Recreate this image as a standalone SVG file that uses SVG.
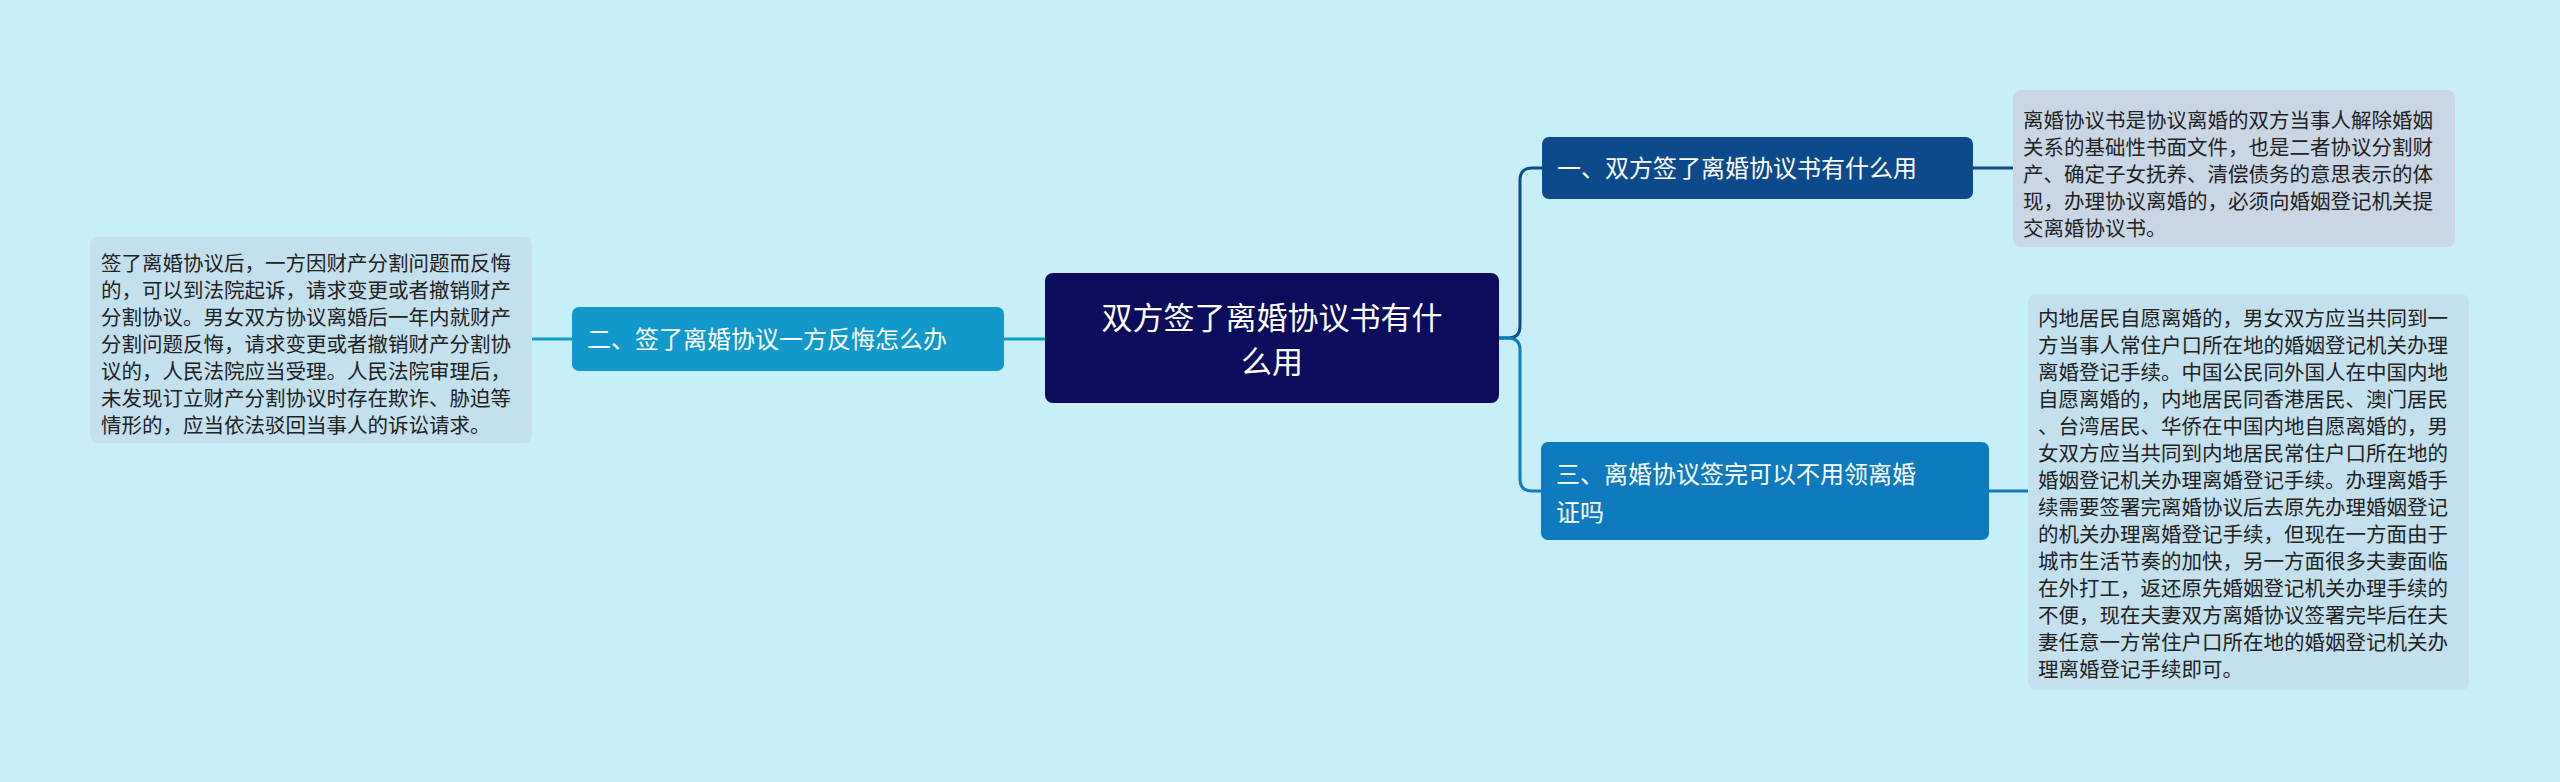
<svg xmlns="http://www.w3.org/2000/svg" width="2560" height="782" viewBox="0 0 2560 782">
<style>
text{font-family:"Noto Sans CJK SC","Liberation Sans",sans-serif}
.leaf{font-size:20.5px;fill:#222}
.n{font-size:24px;fill:#fff}
.c{fill:none;stroke-width:3}
</style>
<rect width="2560" height="782" fill="#c8eef7"/>
<g id="connectors">
<path class="c" stroke="#0c4a8c" d="M1499,338 H1508 Q1520,338 1520,326 V180 Q1520,168 1532,168 H1542"/>
<path class="c" stroke="#0e7bbf" d="M1499,338 H1508 Q1520,338 1520,350 V479 Q1520,491 1532,491 H1541"/>
<path class="c" stroke="#1199cc" d="M1045,339 H1004"/>
<path class="c" stroke="#0c4a8c" d="M1973,168 H2013"/>
<path class="c" stroke="#0e7bbf" d="M1989,491 H2028"/>
<path class="c" stroke="#1199cc" d="M572,339 H532"/>
</g>
<g id="center">
<rect x="1045" y="273" width="454" height="130" rx="8" fill="#0b0c5c"/>
<text x="1272" y="329" font-size="31" fill="#fff" text-anchor="middle">双方签了离婚协议书有什</text>
<text x="1272" y="373" font-size="31" fill="#fff" text-anchor="middle">么用</text>
</g>
<g id="node1">
<rect x="1542" y="137" width="431" height="62" rx="7" fill="#0c4a8c"/>
<text class="n" x="1557" y="177">一、双方签了离婚协议书有什么用</text>
</g>
<g id="leaf1">
<rect x="2013" y="90" width="442" height="157" rx="8" fill="#c9d6e6"/>
<text class="leaf" x="2023" y="128">离婚协议书是协议离婚的双方当事人解除婚姻</text>
<text class="leaf" x="2023" y="155">关系的基础性书面文件，也是二者协议分割财</text>
<text class="leaf" x="2023" y="182">产、确定子女抚养、清偿债务的意思表示的体</text>
<text class="leaf" x="2023" y="209">现，办理协议离婚的，必须向婚姻登记机关提</text>
<text class="leaf" x="2023" y="236">交离婚协议书。</text>
</g>
<g id="node3">
<rect x="1541" y="442" width="448" height="98" rx="7" fill="#0e7bbf"/>
<text class="n" x="1556" y="483">三、离婚协议签完可以不用领离婚</text>
<text class="n" x="1556" y="521">证吗</text>
</g>
<g id="leaf3">
<rect x="2028" y="294" width="441" height="396" rx="8" fill="#c3e0ef"/>
<text class="leaf" x="2038" y="326">内地居民自愿离婚的，男女双方应当共同到一</text>
<text class="leaf" x="2038" y="353">方当事人常住户口所在地的婚姻登记机关办理</text>
<text class="leaf" x="2038" y="380">离婚登记手续。中国公民同外国人在中国内地</text>
<text class="leaf" x="2038" y="407">自愿离婚的，内地居民同香港居民、澳门居民</text>
<text class="leaf" x="2038" y="434">、台湾居民、华侨在中国内地自愿离婚的，男</text>
<text class="leaf" x="2038" y="461">女双方应当共同到内地居民常住户口所在地的</text>
<text class="leaf" x="2038" y="488">婚姻登记机关办理离婚登记手续。办理离婚手</text>
<text class="leaf" x="2038" y="515">续需要签署完离婚协议后去原先办理婚姻登记</text>
<text class="leaf" x="2038" y="542">的机关办理离婚登记手续，但现在一方面由于</text>
<text class="leaf" x="2038" y="569">城市生活节奏的加快，另一方面很多夫妻面临</text>
<text class="leaf" x="2038" y="596">在外打工，返还原先婚姻登记机关办理手续的</text>
<text class="leaf" x="2038" y="623">不便，现在夫妻双方离婚协议签署完毕后在夫</text>
<text class="leaf" x="2038" y="650">妻任意一方常住户口所在地的婚姻登记机关办</text>
<text class="leaf" x="2038" y="677">理离婚登记手续即可。</text>
</g>
<g id="node2">
<rect x="572" y="307" width="432" height="64" rx="7" fill="#1199cc"/>
<text class="n" x="587" y="348">二、签了离婚协议一方反悔怎么办</text>
</g>
<g id="leaf2">
<rect x="90" y="237" width="442" height="206" rx="8" fill="#c3e0ef"/>
<text class="leaf" x="101" y="271">签了离婚协议后，一方因财产分割问题而反悔</text>
<text class="leaf" x="101" y="298">的，可以到法院起诉，请求变更或者撤销财产</text>
<text class="leaf" x="101" y="325">分割协议。男女双方协议离婚后一年内就财产</text>
<text class="leaf" x="101" y="352">分割问题反悔，请求变更或者撤销财产分割协</text>
<text class="leaf" x="101" y="379">议的，人民法院应当受理。人民法院审理后，</text>
<text class="leaf" x="101" y="406">未发现订立财产分割协议时存在欺诈、胁迫等</text>
<text class="leaf" x="101" y="433">情形的，应当依法驳回当事人的诉讼请求。</text>
</g>
</svg>
